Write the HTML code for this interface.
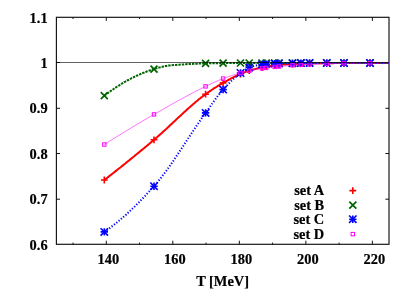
<!DOCTYPE html><html><head><meta charset="utf-8"><style>html,body{margin:0;padding:0;background:#fff}svg{display:block;will-change:transform}text{font-family:"Liberation Serif",serif;font-weight:bold;font-size:14.4px;fill:#000;stroke:#000;stroke-width:0.2px}</style></head><body>
<svg width="415" height="291" viewBox="0 0 415 291">
<rect width="415" height="291" fill="#fff"/>
<rect x="56.4" y="17.3" width="332.6" height="227.0" fill="none" stroke="#111" stroke-width="1.15"/>
<path d="M73.03,244.3v-1.7M73.03,17.3v1.7M106.29,244.3v-3.6M106.29,17.3v3.6M139.55,244.3v-1.7M139.55,17.3v1.7M172.81,244.3v-3.6M172.81,17.3v3.6M206.07,244.3v-1.7M206.07,17.3v1.7M239.33,244.3v-3.6M239.33,17.3v3.6M272.59,244.3v-1.7M272.59,17.3v1.7M305.85,244.3v-3.6M305.85,17.3v3.6M339.11,244.3v-1.7M339.11,17.3v1.7M372.37,244.3v-3.6M372.37,17.3v3.6M56.4,199.20h3.6M389.0,199.20h-3.6M56.4,153.50h3.6M389.0,153.50h-3.6M56.4,108.30h3.6M389.0,108.30h-3.6M56.4,62.50h3.6M389.0,62.50h-3.6" stroke="#111" stroke-width="1" fill="none"/>
<text x="47.6" y="249.5" text-anchor="end">0.6</text>
<text x="47.6" y="204.1" text-anchor="end">0.7</text>
<text x="47.6" y="158.7" text-anchor="end">0.8</text>
<text x="47.6" y="113.3" text-anchor="end">0.9</text>
<text x="47.6" y="67.9" text-anchor="end">1</text>
<text x="47.6" y="22.5" text-anchor="end">1.1</text>
<text x="108.3" y="263.8" text-anchor="middle">140</text>
<text x="174.8" y="263.8" text-anchor="middle">160</text>
<text x="241.3" y="263.8" text-anchor="middle">180</text>
<text x="307.8" y="263.8" text-anchor="middle">200</text>
<text x="374.4" y="263.8" text-anchor="middle">220</text>
<text x="222.6" y="285.5" text-anchor="middle">T [MeV]</text>
<path d="M104.3,180.0 L105.3,179.2 L106.3,178.5 L107.3,177.7 L108.3,176.9 L109.3,176.1 L110.3,175.3 L111.3,174.6 L112.3,173.8 L113.3,173.0 L114.3,172.2 L115.3,171.4 L116.3,170.6 L117.3,169.8 L118.3,169.0 L119.3,168.2 L120.3,167.5 L121.3,166.7 L122.3,165.9 L123.3,165.1 L124.3,164.3 L125.3,163.5 L126.3,162.6 L127.3,161.8 L128.3,161.0 L129.3,160.2 L130.3,159.4 L131.3,158.6 L132.3,157.8 L133.3,157.0 L134.3,156.2 L135.3,155.3 L136.3,154.5 L137.3,153.7 L138.3,152.9 L139.3,152.1 L140.3,151.2 L141.3,150.4 L142.3,149.6 L143.3,148.8 L144.3,147.9 L145.3,147.1 L146.3,146.3 L147.3,145.4 L148.3,144.6 L149.3,143.8 L150.3,142.9 L151.3,142.1 L152.3,141.2 L153.3,140.4 L154.3,139.5 L155.3,138.7 L156.3,137.8 L157.3,137.0 L158.3,136.1 L159.3,135.2 L160.3,134.3 L161.3,133.4 L162.3,132.5 L163.3,131.6 L164.3,130.7 L165.3,129.8 L166.3,128.9 L167.3,127.9 L168.3,127.0 L169.3,126.1 L170.3,125.1 L171.3,124.2 L172.3,123.3 L173.3,122.3 L174.3,121.4 L175.3,120.5 L176.3,119.5 L177.3,118.6 L178.3,117.6 L179.3,116.7 L180.3,115.8 L181.3,114.9 L182.3,113.9 L183.3,113.0 L184.3,112.1 L185.3,111.2 L186.3,110.3 L187.3,109.3 L188.3,108.4 L189.3,107.6 L190.3,106.7 L191.3,105.8 L192.3,104.9 L193.3,104.0 L194.3,103.2 L195.3,102.3 L196.3,101.5 L197.3,100.7 L198.3,99.8 L199.3,99.0 L200.3,98.2 L201.3,97.4 L202.3,96.7 L203.3,95.9 L204.3,95.2 L205.3,94.4 L206.3,93.7 L207.3,93.0 L208.3,92.3 L209.3,91.6 L210.3,90.9 L211.3,90.2 L212.3,89.5 L213.3,88.9 L214.3,88.2 L215.3,87.6 L216.3,87.0 L217.3,86.3 L218.3,85.7 L219.3,85.1 L220.3,84.5 L221.3,83.9 L222.3,83.4 L223.3,82.8 L224.3,82.2 L225.3,81.7 L226.3,81.1 L227.3,80.6 L228.3,80.0 L229.3,79.5 L230.3,78.9 L231.3,78.4 L232.3,77.9 L233.3,77.4 L234.3,76.9 L235.3,76.4 L236.3,75.9 L237.3,75.4 L238.3,75.0 L239.3,74.5 L240.3,74.1 L241.3,73.7 L242.3,73.2 L243.3,72.8 L244.3,72.4 L245.3,72.0 L246.3,71.6 L247.3,71.2 L248.3,70.9 L249.3,70.6 L250.3,70.3 L251.3,70.0 L252.3,69.7 L253.3,69.5 L254.3,69.2 L255.3,69.0 L256.3,68.7 L257.3,68.5 L258.3,68.3 L259.3,68.1 L260.3,67.9 L261.3,67.6 L262.3,67.4 L263.3,67.2 L264.3,67.0 L265.3,66.9 L266.3,66.7 L267.3,66.5 L268.3,66.3 L269.3,66.2 L270.3,66.0 L271.3,65.9 L272.3,65.7 L273.3,65.6 L274.3,65.5 L275.3,65.3 L276.3,65.2 L277.3,65.1 L278.3,65.0 L279.3,64.9 L280.3,64.8 L281.3,64.7 L282.3,64.6 L283.3,64.5 L284.3,64.5 L285.3,64.4 L286.3,64.3 L287.3,64.3 L288.3,64.2 L289.3,64.2 L290.3,64.1 L291.3,64.1 L292.3,64.0 L293.3,64.0 L294.3,63.9 L295.3,63.9 L296.3,63.9 L297.3,63.8 L298.3,63.8 L299.3,63.8 L300.3,63.7 L301.3,63.7 L302.3,63.6 L303.3,63.6 L304.3,63.6 L305.3,63.5 L306.3,63.5 L307.3,63.5 L308.3,63.4 L309.3,63.4 L310.3,63.4 L311.3,63.4 L312.3,63.4 L313.3,63.3 L314.3,63.3 L315.3,63.3 L316.3,63.3 L317.3,63.3 L318.3,63.3 L319.3,63.3 L320.3,63.3 L321.3,63.2 L322.3,63.2 L323.3,63.2 L324.3,63.2 L325.3,63.2 L326.3,63.2 L327.3,63.2 L328.3,63.2 L329.3,63.2 L330.3,63.2 L331.3,63.2 L332.3,63.2 L333.3,63.2 L334.3,63.1 L335.3,63.1 L336.3,63.1 L337.3,63.1 L338.3,63.1 L339.3,63.1 L340.3,63.1 L341.3,63.1 L342.3,63.1 L343.3,63.1 L344.3,63.1 L345.3,63.1 L346.3,63.1 L347.3,63.1 L348.3,63.1 L349.3,63.1 L350.3,63.1 L351.3,63.1 L352.3,63.1 L353.3,63.1 L354.3,63.0 L355.3,63.0 L356.3,63.0 L357.3,63.0 L358.3,63.0 L359.3,63.0 L360.3,63.0 L361.3,63.0 L362.3,63.0 L363.3,63.0 L364.3,63.0 L365.3,63.0 L366.3,63.0 L367.3,63.0 L368.3,63.0 L369.3,63.0 L370.3,63.0 L371.3,63.0 L372.3,63.0 L373.3,63.0 L374.3,63.0 L375.3,63.0 L376.3,63.0 L377.3,63.0 L378.3,63.0 L379.3,63.0 L380.3,63.0 L381.3,63.0 L382.3,63.0 L383.3,63.0 L384.3,63.0 L385.3,63.0 L386.3,63.0 L387.3,63.0 L388.3,63.0 L389.0,63.0" stroke="#ff0000" stroke-width="2" fill="none"/>
<path d="M100.9,180.0H107.7M104.3,176.6V183.4" stroke="#ff0000" stroke-width="1.6" fill="none"/>
<path d="M150.6,139.8H157.4M154.0,136.4V143.2" stroke="#ff0000" stroke-width="1.6" fill="none"/>
<path d="M202.2,94.2H209.0M205.6,90.8V97.6" stroke="#ff0000" stroke-width="1.6" fill="none"/>
<path d="M219.7,82.9H226.5M223.1,79.5V86.3" stroke="#ff0000" stroke-width="1.6" fill="none"/>
<path d="M237.1,74.0H243.9M240.5,70.6V77.4" stroke="#ff0000" stroke-width="1.6" fill="none"/>
<path d="M245.8,70.6H252.6M249.2,67.2V74.0" stroke="#ff0000" stroke-width="1.6" fill="none"/>
<path d="M258.6,67.5H265.4M262.0,64.1V70.9" stroke="#ff0000" stroke-width="1.6" fill="none"/>
<path d="M262.8,66.7H269.6M266.2,63.3V70.1" stroke="#ff0000" stroke-width="1.6" fill="none"/>
<path d="M271.3,65.4H278.1M274.7,62.0V68.8" stroke="#ff0000" stroke-width="1.6" fill="none"/>
<path d="M275.6,64.9H282.4M279.0,61.5V68.3" stroke="#ff0000" stroke-width="1.6" fill="none"/>
<path d="M289.1,64.0H295.9M292.5,60.6V67.4" stroke="#ff0000" stroke-width="1.6" fill="none"/>
<path d="M297.5,63.7H304.3M300.9,60.3V67.1" stroke="#ff0000" stroke-width="1.6" fill="none"/>
<path d="M306.2,63.4H313.0M309.6,60.0V66.8" stroke="#ff0000" stroke-width="1.6" fill="none"/>
<path d="M323.4,63.2H330.2M326.8,59.8V66.6" stroke="#ff0000" stroke-width="1.6" fill="none"/>
<path d="M340.6,63.1H347.4M344.0,59.7V66.5" stroke="#ff0000" stroke-width="1.6" fill="none"/>
<path d="M366.6,63.0H373.4M370.0,59.6V66.4" stroke="#ff0000" stroke-width="1.6" fill="none"/>
<path d="M104.3,95.7 L105.3,94.9 L106.3,94.2 L107.3,93.4 L108.3,92.7 L109.3,92.0 L110.3,91.3 L111.3,90.6 L112.3,89.9 L113.3,89.2 L114.3,88.5 L115.3,87.8 L116.3,87.2 L117.3,86.5 L118.3,85.9 L119.3,85.3 L120.3,84.6 L121.3,84.0 L122.3,83.4 L123.3,82.8 L124.3,82.2 L125.3,81.7 L126.3,81.1 L127.3,80.5 L128.3,80.0 L129.3,79.4 L130.3,78.9 L131.3,78.4 L132.3,77.9 L133.3,77.4 L134.3,76.9 L135.3,76.4 L136.3,75.9 L137.3,75.5 L138.3,75.0 L139.3,74.6 L140.3,74.1 L141.3,73.7 L142.3,73.3 L143.3,72.9 L144.3,72.5 L145.3,72.1 L146.3,71.7 L147.3,71.3 L148.3,71.0 L149.3,70.6 L150.3,70.3 L151.3,70.0 L152.3,69.6 L153.3,69.3 L154.3,69.0 L155.3,68.7 L156.3,68.4 L157.3,68.1 L158.3,67.8 L159.3,67.6 L160.3,67.3 L161.3,67.0 L162.3,66.8 L163.3,66.6 L164.3,66.4 L165.3,66.1 L166.3,66.0 L167.3,65.8 L168.3,65.6 L169.3,65.5 L170.3,65.4 L171.3,65.3 L172.3,65.2 L173.3,65.1 L174.3,65.0 L175.3,64.9 L176.3,64.9 L177.3,64.8 L178.3,64.7 L179.3,64.7 L180.3,64.6 L181.3,64.5 L182.3,64.4 L183.3,64.4 L184.3,64.3 L185.3,64.3 L186.3,64.2 L187.3,64.1 L188.3,64.1 L189.3,64.0 L190.3,64.0 L191.3,63.9 L192.3,63.9 L193.3,63.8 L194.3,63.8 L195.3,63.7 L196.3,63.7 L197.3,63.7 L198.3,63.6 L199.3,63.6 L200.3,63.5 L201.3,63.5 L202.3,63.5 L203.3,63.5 L204.3,63.4 L205.3,63.4 L206.3,63.4 L207.3,63.4 L208.3,63.4 L209.3,63.3 L210.3,63.3 L211.3,63.3 L212.3,63.3 L213.3,63.3 L214.3,63.3 L215.3,63.3 L216.3,63.3 L217.3,63.3 L218.3,63.2 L219.3,63.2 L220.3,63.2 L221.3,63.2 L222.3,63.2 L223.3,63.2 L224.3,63.2 L225.3,63.2 L226.3,63.2 L227.3,63.1 L228.3,63.1 L229.3,63.1 L230.3,63.1 L231.3,63.1 L232.3,63.1 L233.3,63.1 L234.3,63.0 L235.3,63.0 L236.3,63.0 L237.3,63.0 L238.3,63.0 L239.3,63.0 L240.3,63.0 L241.3,63.0 L242.3,63.0 L243.3,63.0 L244.3,63.0 L245.3,63.0 L246.3,63.0 L247.3,63.0 L248.3,63.0 L249.3,63.0 L250.3,63.0 L251.3,63.0 L252.3,63.0 L253.3,63.0 L254.3,63.0 L255.3,63.0 L256.3,63.0 L257.3,63.0 L258.3,63.0 L259.3,63.0 L260.3,63.0 L261.3,63.0 L262.3,63.0 L263.3,63.0 L264.3,63.0 L265.3,63.0 L266.3,63.0 L267.3,63.0 L268.3,63.0 L269.3,63.0 L270.3,63.0 L271.3,63.0 L272.3,63.0 L273.3,63.0 L274.3,63.0 L275.3,63.0 L276.3,63.0 L277.3,63.0 L278.3,63.0 L279.3,63.0 L280.3,63.0 L281.3,63.0 L282.3,63.0 L283.3,63.0 L284.3,63.0 L285.3,63.0 L286.3,63.0 L287.3,63.0 L288.3,63.0 L289.3,63.0 L290.3,63.0 L291.3,63.0 L292.3,63.0 L293.3,63.0 L294.3,63.0 L295.3,63.0 L296.3,63.0 L297.3,63.0 L298.3,63.0 L299.3,63.0 L300.3,63.0 L301.3,63.0 L302.3,63.0 L303.3,63.0 L304.3,63.0 L305.3,63.0 L306.3,63.0 L307.3,63.0 L308.3,63.0 L309.3,63.0 L310.3,63.0 L311.3,63.0 L312.3,63.0 L313.3,63.0 L314.3,63.0 L315.3,63.0 L316.3,63.0 L317.3,63.0 L318.3,63.0 L319.3,63.0 L320.3,63.0 L321.3,63.0 L322.3,63.0 L323.3,63.0 L324.3,63.0 L325.3,63.0 L326.3,63.0 L327.3,63.0 L328.3,63.0 L329.3,63.0 L330.3,63.0 L331.3,63.0 L332.3,63.0 L333.3,63.0 L334.3,63.0 L335.3,63.0 L336.3,63.0 L337.3,63.0 L338.3,63.0 L339.3,63.0 L340.3,63.0 L341.3,63.0 L342.3,63.0 L343.3,63.0 L344.3,63.0 L345.3,63.0 L346.3,63.0 L347.3,63.0 L348.3,63.0 L349.3,63.0 L350.3,63.0 L351.3,63.0 L352.3,63.0 L353.3,63.0 L354.3,63.0 L355.3,63.0 L356.3,63.0 L357.3,63.0 L358.3,63.0 L359.3,63.0 L360.3,63.0 L361.3,63.0 L362.3,63.0 L363.3,63.0 L364.3,63.0 L365.3,63.0 L366.3,63.0 L367.3,63.0 L368.3,63.0 L369.3,63.0 L370.3,63.0 L371.3,63.0 L372.3,63.0 L373.3,63.0 L374.3,63.0 L375.3,63.0 L376.3,63.0 L377.3,63.0 L378.3,63.0 L379.3,63.0 L380.3,63.0 L381.3,63.0 L382.3,63.0 L383.3,63.0 L384.3,63.0 L385.3,63.0 L386.3,63.0 L387.3,63.0 L388.3,63.0 L389.0,63.0" stroke="#006400" stroke-width="2" stroke-dasharray="2.4 1.0" fill="none"/>
<path d="M100.8,92.2L107.8,99.2M100.8,99.2L107.8,92.2" stroke="#006400" stroke-width="1.7" fill="none"/>
<path d="M150.5,65.6L157.5,72.6M150.5,72.6L157.5,65.6" stroke="#006400" stroke-width="1.7" fill="none"/>
<path d="M202.1,59.9L209.1,66.9M202.1,66.9L209.1,59.9" stroke="#006400" stroke-width="1.7" fill="none"/>
<path d="M219.6,59.7L226.6,66.7M219.6,66.7L226.6,59.7" stroke="#006400" stroke-width="1.7" fill="none"/>
<path d="M237.0,59.5L244.0,66.5M237.0,66.5L244.0,59.5" stroke="#006400" stroke-width="1.7" fill="none"/>
<path d="M245.7,59.5L252.7,66.5M245.7,66.5L252.7,59.5" stroke="#006400" stroke-width="1.7" fill="none"/>
<path d="M258.5,59.5L265.5,66.5M258.5,66.5L265.5,59.5" stroke="#006400" stroke-width="1.7" fill="none"/>
<path d="M262.7,59.5L269.7,66.5M262.7,66.5L269.7,59.5" stroke="#006400" stroke-width="1.7" fill="none"/>
<path d="M271.2,59.5L278.2,66.5M271.2,66.5L278.2,59.5" stroke="#006400" stroke-width="1.7" fill="none"/>
<path d="M275.5,59.5L282.5,66.5M275.5,66.5L282.5,59.5" stroke="#006400" stroke-width="1.7" fill="none"/>
<path d="M289.0,59.5L296.0,66.5M289.0,66.5L296.0,59.5" stroke="#006400" stroke-width="1.7" fill="none"/>
<path d="M297.4,59.5L304.4,66.5M297.4,66.5L304.4,59.5" stroke="#006400" stroke-width="1.7" fill="none"/>
<path d="M306.1,59.5L313.1,66.5M306.1,66.5L313.1,59.5" stroke="#006400" stroke-width="1.7" fill="none"/>
<path d="M323.3,59.5L330.3,66.5M323.3,66.5L330.3,59.5" stroke="#006400" stroke-width="1.7" fill="none"/>
<path d="M340.5,59.5L347.5,66.5M340.5,66.5L347.5,59.5" stroke="#006400" stroke-width="1.7" fill="none"/>
<path d="M366.5,59.5L373.5,66.5M366.5,66.5L373.5,59.5" stroke="#006400" stroke-width="1.7" fill="none"/>
<path d="M104.3,231.9 L105.3,231.2 L106.3,230.5 L107.3,229.8 L108.3,229.1 L109.3,228.4 L110.3,227.6 L111.3,226.9 L112.3,226.1 L113.3,225.4 L114.3,224.6 L115.3,223.8 L116.3,223.0 L117.3,222.2 L118.3,221.4 L119.3,220.5 L120.3,219.7 L121.3,218.8 L122.3,218.0 L123.3,217.1 L124.3,216.2 L125.3,215.3 L126.3,214.4 L127.3,213.5 L128.3,212.6 L129.3,211.7 L130.3,210.7 L131.3,209.8 L132.3,208.8 L133.3,207.8 L134.3,206.9 L135.3,205.9 L136.3,204.9 L137.3,203.9 L138.3,202.9 L139.3,201.9 L140.3,200.9 L141.3,199.8 L142.3,198.8 L143.3,197.8 L144.3,196.7 L145.3,195.7 L146.3,194.6 L147.3,193.5 L148.3,192.5 L149.3,191.4 L150.3,190.3 L151.3,189.2 L152.3,188.1 L153.3,187.0 L154.3,185.9 L155.3,184.7 L156.3,183.6 L157.3,182.4 L158.3,181.2 L159.3,179.9 L160.3,178.7 L161.3,177.4 L162.3,176.1 L163.3,174.8 L164.3,173.5 L165.3,172.2 L166.3,170.8 L167.3,169.4 L168.3,168.0 L169.3,166.6 L170.3,165.2 L171.3,163.8 L172.3,162.3 L173.3,160.9 L174.3,159.4 L175.3,157.9 L176.3,156.4 L177.3,154.9 L178.3,153.4 L179.3,151.9 L180.3,150.4 L181.3,148.9 L182.3,147.4 L183.3,145.9 L184.3,144.3 L185.3,142.8 L186.3,141.3 L187.3,139.8 L188.3,138.2 L189.3,136.7 L190.3,135.2 L191.3,133.7 L192.3,132.2 L193.3,130.7 L194.3,129.2 L195.3,127.7 L196.3,126.2 L197.3,124.7 L198.3,123.3 L199.3,121.8 L200.3,120.4 L201.3,118.9 L202.3,117.5 L203.3,116.1 L204.3,114.7 L205.3,113.3 L206.3,111.9 L207.3,110.6 L208.3,109.2 L209.3,107.8 L210.3,106.3 L211.3,104.9 L212.3,103.5 L213.3,102.1 L214.3,100.8 L215.3,99.4 L216.3,98.0 L217.3,96.7 L218.3,95.4 L219.3,94.1 L220.3,92.9 L221.3,91.7 L222.3,90.5 L223.3,89.4 L224.3,88.3 L225.3,87.2 L226.3,86.1 L227.3,85.1 L228.3,84.0 L229.3,83.0 L230.3,82.0 L231.3,81.0 L232.3,80.0 L233.3,79.1 L234.3,78.2 L235.3,77.3 L236.3,76.4 L237.3,75.5 L238.3,74.7 L239.3,73.9 L240.3,73.2 L241.3,72.4 L242.3,71.6 L243.3,70.9 L244.3,70.1 L245.3,69.5 L246.3,68.8 L247.3,68.2 L248.3,67.8 L249.3,67.4 L250.3,67.0 L251.3,66.7 L252.3,66.4 L253.3,66.1 L254.3,65.9 L255.3,65.6 L256.3,65.4 L257.3,65.2 L258.3,65.0 L259.3,64.8 L260.3,64.7 L261.3,64.6 L262.3,64.5 L263.3,64.4 L264.3,64.3 L265.3,64.3 L266.3,64.2 L267.3,64.1 L268.3,64.0 L269.3,64.0 L270.3,63.9 L271.3,63.8 L272.3,63.7 L273.3,63.7 L274.3,63.6 L275.3,63.6 L276.3,63.6 L277.3,63.5 L278.3,63.5 L279.3,63.5 L280.3,63.5 L281.3,63.4 L282.3,63.4 L283.3,63.4 L284.3,63.4 L285.3,63.3 L286.3,63.3 L287.3,63.3 L288.3,63.3 L289.3,63.3 L290.3,63.2 L291.3,63.2 L292.3,63.2 L293.3,63.2 L294.3,63.2 L295.3,63.2 L296.3,63.2 L297.3,63.1 L298.3,63.1 L299.3,63.1 L300.3,63.1 L301.3,63.1 L302.3,63.1 L303.3,63.1 L304.3,63.1 L305.3,63.0 L306.3,63.0 L307.3,63.0 L308.3,63.0 L309.3,63.0 L310.3,63.0 L311.3,63.0 L312.3,63.0 L313.3,63.0 L314.3,63.0 L315.3,63.0 L316.3,63.0 L317.3,63.0 L318.3,63.0 L319.3,63.0 L320.3,63.0 L321.3,63.0 L322.3,63.0 L323.3,63.0 L324.3,63.0 L325.3,63.0 L326.3,63.0 L327.3,63.0 L328.3,63.0 L329.3,63.0 L330.3,63.0 L331.3,63.0 L332.3,63.0 L333.3,63.0 L334.3,63.0 L335.3,63.0 L336.3,63.0 L337.3,63.0 L338.3,63.0 L339.3,63.0 L340.3,63.0 L341.3,63.0 L342.3,63.0 L343.3,63.0 L344.3,63.0 L345.3,63.0 L346.3,63.0 L347.3,63.0 L348.3,63.0 L349.3,63.0 L350.3,63.0 L351.3,63.0 L352.3,63.0 L353.3,63.0 L354.3,63.0 L355.3,63.0 L356.3,63.0 L357.3,63.0 L358.3,63.0 L359.3,63.0 L360.3,63.0 L361.3,63.0 L362.3,63.0 L363.3,63.0 L364.3,63.0 L365.3,63.0 L366.3,63.0 L367.3,63.0 L368.3,63.0 L369.3,63.0 L370.3,63.0 L371.3,63.0 L372.3,63.0 L373.3,63.0 L374.3,63.0 L375.3,63.0 L376.3,63.0 L377.3,63.0 L378.3,63.0 L379.3,63.0 L380.3,63.0 L381.3,63.0 L382.3,63.0 L383.3,63.0 L384.3,63.0 L385.3,63.0 L386.3,63.0 L387.3,63.0 L388.3,63.0 L389.0,63.0" stroke="#0000ff" stroke-width="2" stroke-dasharray="1.2 1.8" fill="none"/>
<path d="M100.6,231.9H108.0M104.3,228.2V235.6" stroke="#0000ff" stroke-width="1.6" fill="none"/><path d="M100.6,228.2L108.0,235.6M100.6,235.6L108.0,228.2" stroke="#0000ff" stroke-width="1.6" fill="none"/>
<path d="M150.3,186.2H157.7M154.0,182.5V189.9" stroke="#0000ff" stroke-width="1.6" fill="none"/><path d="M150.3,182.5L157.7,189.9M150.3,189.9L157.7,182.5" stroke="#0000ff" stroke-width="1.6" fill="none"/>
<path d="M201.9,112.9H209.3M205.6,109.2V116.6" stroke="#0000ff" stroke-width="1.6" fill="none"/><path d="M201.9,109.2L209.3,116.6M201.9,116.6L209.3,109.2" stroke="#0000ff" stroke-width="1.6" fill="none"/>
<path d="M219.4,89.6H226.8M223.1,85.9V93.3" stroke="#0000ff" stroke-width="1.6" fill="none"/><path d="M219.4,85.9L226.8,93.3M219.4,93.3L226.8,85.9" stroke="#0000ff" stroke-width="1.6" fill="none"/>
<path d="M236.8,73.0H244.2M240.5,69.3V76.7" stroke="#0000ff" stroke-width="1.6" fill="none"/><path d="M236.8,69.3L244.2,76.7M236.8,76.7L244.2,69.3" stroke="#0000ff" stroke-width="1.6" fill="none"/>
<path d="M245.5,67.4H252.9M249.2,63.7V71.1" stroke="#0000ff" stroke-width="1.6" fill="none"/><path d="M245.5,63.7L252.9,71.1M245.5,71.1L252.9,63.7" stroke="#0000ff" stroke-width="1.6" fill="none"/>
<path d="M258.3,64.5H265.7M262.0,60.8V68.2" stroke="#0000ff" stroke-width="1.6" fill="none"/><path d="M258.3,60.8L265.7,68.2M258.3,68.2L265.7,60.8" stroke="#0000ff" stroke-width="1.6" fill="none"/>
<path d="M262.5,64.2H269.9M266.2,60.5V67.9" stroke="#0000ff" stroke-width="1.6" fill="none"/><path d="M262.5,60.5L269.9,67.9M262.5,67.9L269.9,60.5" stroke="#0000ff" stroke-width="1.6" fill="none"/>
<path d="M271.0,63.6H278.4M274.7,59.9V67.3" stroke="#0000ff" stroke-width="1.6" fill="none"/><path d="M271.0,59.9L278.4,67.3M271.0,67.3L278.4,59.9" stroke="#0000ff" stroke-width="1.6" fill="none"/>
<path d="M275.3,63.5H282.7M279.0,59.8V67.2" stroke="#0000ff" stroke-width="1.6" fill="none"/><path d="M275.3,59.8L282.7,67.2M275.3,67.2L282.7,59.8" stroke="#0000ff" stroke-width="1.6" fill="none"/>
<path d="M288.8,63.2H296.2M292.5,59.5V66.9" stroke="#0000ff" stroke-width="1.6" fill="none"/><path d="M288.8,59.5L296.2,66.9M288.8,66.9L296.2,59.5" stroke="#0000ff" stroke-width="1.6" fill="none"/>
<path d="M297.2,63.1H304.6M300.9,59.4V66.8" stroke="#0000ff" stroke-width="1.6" fill="none"/><path d="M297.2,59.4L304.6,66.8M297.2,66.8L304.6,59.4" stroke="#0000ff" stroke-width="1.6" fill="none"/>
<path d="M305.9,63.0H313.3M309.6,59.3V66.7" stroke="#0000ff" stroke-width="1.6" fill="none"/><path d="M305.9,59.3L313.3,66.7M305.9,66.7L313.3,59.3" stroke="#0000ff" stroke-width="1.6" fill="none"/>
<path d="M323.1,63.0H330.5M326.8,59.3V66.7" stroke="#0000ff" stroke-width="1.6" fill="none"/><path d="M323.1,59.3L330.5,66.7M323.1,66.7L330.5,59.3" stroke="#0000ff" stroke-width="1.6" fill="none"/>
<path d="M340.3,63.0H347.7M344.0,59.3V66.7" stroke="#0000ff" stroke-width="1.6" fill="none"/><path d="M340.3,59.3L347.7,66.7M340.3,66.7L347.7,59.3" stroke="#0000ff" stroke-width="1.6" fill="none"/>
<path d="M366.3,63.0H373.7M370.0,59.3V66.7" stroke="#0000ff" stroke-width="1.6" fill="none"/><path d="M366.3,59.3L373.7,66.7M366.3,66.7L373.7,59.3" stroke="#0000ff" stroke-width="1.6" fill="none"/>
<path d="M104.3,144.5 L105.3,143.9 L106.3,143.2 L107.3,142.6 L108.3,142.0 L109.3,141.3 L110.3,140.7 L111.3,140.1 L112.3,139.4 L113.3,138.8 L114.3,138.2 L115.3,137.6 L116.3,136.9 L117.3,136.3 L118.3,135.7 L119.3,135.1 L120.3,134.5 L121.3,133.9 L122.3,133.2 L123.3,132.6 L124.3,132.0 L125.3,131.4 L126.3,130.8 L127.3,130.2 L128.3,129.6 L129.3,129.0 L130.3,128.4 L131.3,127.8 L132.3,127.1 L133.3,126.5 L134.3,125.9 L135.3,125.3 L136.3,124.8 L137.3,124.2 L138.3,123.6 L139.3,123.0 L140.3,122.4 L141.3,121.8 L142.3,121.2 L143.3,120.6 L144.3,120.0 L145.3,119.4 L146.3,118.9 L147.3,118.3 L148.3,117.7 L149.3,117.1 L150.3,116.5 L151.3,116.0 L152.3,115.4 L153.3,114.8 L154.3,114.2 L155.3,113.7 L156.3,113.1 L157.3,112.5 L158.3,111.9 L159.3,111.4 L160.3,110.8 L161.3,110.2 L162.3,109.7 L163.3,109.1 L164.3,108.5 L165.3,107.9 L166.3,107.4 L167.3,106.8 L168.3,106.2 L169.3,105.7 L170.3,105.1 L171.3,104.5 L172.3,104.0 L173.3,103.4 L174.3,102.9 L175.3,102.3 L176.3,101.8 L177.3,101.2 L178.3,100.6 L179.3,100.1 L180.3,99.5 L181.3,99.0 L182.3,98.4 L183.3,97.9 L184.3,97.4 L185.3,96.8 L186.3,96.3 L187.3,95.7 L188.3,95.2 L189.3,94.7 L190.3,94.1 L191.3,93.6 L192.3,93.1 L193.3,92.6 L194.3,92.1 L195.3,91.5 L196.3,91.0 L197.3,90.5 L198.3,90.0 L199.3,89.5 L200.3,89.0 L201.3,88.5 L202.3,88.0 L203.3,87.5 L204.3,87.0 L205.3,86.5 L206.3,86.1 L207.3,85.6 L208.3,85.1 L209.3,84.6 L210.3,84.1 L211.3,83.7 L212.3,83.2 L213.3,82.7 L214.3,82.3 L215.3,81.8 L216.3,81.4 L217.3,81.0 L218.3,80.5 L219.3,80.1 L220.3,79.7 L221.3,79.3 L222.3,78.9 L223.3,78.5 L224.3,78.2 L225.3,77.8 L226.3,77.4 L227.3,77.1 L228.3,76.7 L229.3,76.4 L230.3,76.1 L231.3,75.8 L232.3,75.4 L233.3,75.1 L234.3,74.8 L235.3,74.5 L236.3,74.2 L237.3,73.9 L238.3,73.6 L239.3,73.3 L240.3,73.1 L241.3,72.8 L242.3,72.5 L243.3,72.2 L244.3,72.0 L245.3,71.7 L246.3,71.5 L247.3,71.2 L248.3,71.0 L249.3,70.8 L250.3,70.6 L251.3,70.3 L252.3,70.1 L253.3,69.9 L254.3,69.7 L255.3,69.5 L256.3,69.3 L257.3,69.2 L258.3,69.0 L259.3,68.8 L260.3,68.7 L261.3,68.5 L262.3,68.4 L263.3,68.2 L264.3,68.1 L265.3,68.0 L266.3,67.9 L267.3,67.8 L268.3,67.6 L269.3,67.5 L270.3,67.4 L271.3,67.3 L272.3,67.2 L273.3,67.0 L274.3,66.9 L275.3,66.8 L276.3,66.7 L277.3,66.7 L278.3,66.6 L279.3,66.5 L280.3,66.4 L281.3,66.3 L282.3,66.2 L283.3,66.1 L284.3,66.0 L285.3,65.9 L286.3,65.8 L287.3,65.7 L288.3,65.6 L289.3,65.5 L290.3,65.5 L291.3,65.4 L292.3,65.3 L293.3,65.3 L294.3,65.2 L295.3,65.2 L296.3,65.1 L297.3,65.1 L298.3,65.0 L299.3,65.0 L300.3,64.9 L301.3,64.9 L302.3,64.8 L303.3,64.8 L304.3,64.7 L305.3,64.6 L306.3,64.6 L307.3,64.5 L308.3,64.5 L309.3,64.4 L310.3,64.4 L311.3,64.3 L312.3,64.3 L313.3,64.2 L314.3,64.2 L315.3,64.1 L316.3,64.1 L317.3,64.0 L318.3,64.0 L319.3,64.0 L320.3,63.9 L321.3,63.9 L322.3,63.8 L323.3,63.8 L324.3,63.8 L325.3,63.7 L326.3,63.7 L327.3,63.7 L328.3,63.7 L329.3,63.6 L330.3,63.6 L331.3,63.6 L332.3,63.5 L333.3,63.5 L334.3,63.5 L335.3,63.5 L336.3,63.4 L337.3,63.4 L338.3,63.4 L339.3,63.4 L340.3,63.4 L341.3,63.3 L342.3,63.3 L343.3,63.3 L344.3,63.3 L345.3,63.3 L346.3,63.3 L347.3,63.3 L348.3,63.3 L349.3,63.2 L350.3,63.2 L351.3,63.2 L352.3,63.2 L353.3,63.2 L354.3,63.2 L355.3,63.2 L356.3,63.2 L357.3,63.2 L358.3,63.2 L359.3,63.2 L360.3,63.2 L361.3,63.2 L362.3,63.1 L363.3,63.1 L364.3,63.1 L365.3,63.1 L366.3,63.1 L367.3,63.1 L368.3,63.1 L369.3,63.1 L370.3,63.1 L371.3,63.1 L372.3,63.1 L373.3,63.1 L374.3,63.1 L375.3,63.1 L376.3,63.1 L377.3,63.1 L378.3,63.1 L379.3,63.0 L380.3,63.0 L381.3,63.0 L382.3,63.0 L383.3,63.0 L384.3,63.0 L385.3,63.0 L386.3,63.0 L387.3,63.0 L388.3,63.0 L389.0,63.0" stroke="#ff00ff" stroke-width="0.6" fill="none"/>
<rect x="102.6" y="142.8" width="3.4" height="3.4" stroke="#ff00ff" stroke-width="1.0" fill="none"/>
<rect x="152.3" y="112.7" width="3.4" height="3.4" stroke="#ff00ff" stroke-width="1.0" fill="none"/>
<rect x="203.9" y="84.7" width="3.4" height="3.4" stroke="#ff00ff" stroke-width="1.0" fill="none"/>
<rect x="221.4" y="76.9" width="3.4" height="3.4" stroke="#ff00ff" stroke-width="1.0" fill="none"/>
<rect x="238.8" y="71.3" width="3.4" height="3.4" stroke="#ff00ff" stroke-width="1.0" fill="none"/>
<rect x="247.5" y="69.1" width="3.4" height="3.4" stroke="#ff00ff" stroke-width="1.0" fill="none"/>
<rect x="260.3" y="66.7" width="3.4" height="3.4" stroke="#ff00ff" stroke-width="1.0" fill="none"/>
<rect x="264.5" y="66.2" width="3.4" height="3.4" stroke="#ff00ff" stroke-width="1.0" fill="none"/>
<rect x="273.0" y="65.2" width="3.4" height="3.4" stroke="#ff00ff" stroke-width="1.0" fill="none"/>
<rect x="277.3" y="64.8" width="3.4" height="3.4" stroke="#ff00ff" stroke-width="1.0" fill="none"/>
<rect x="290.8" y="63.6" width="3.4" height="3.4" stroke="#ff00ff" stroke-width="1.0" fill="none"/>
<rect x="299.2" y="63.2" width="3.4" height="3.4" stroke="#ff00ff" stroke-width="1.0" fill="none"/>
<rect x="307.9" y="62.7" width="3.4" height="3.4" stroke="#ff00ff" stroke-width="1.0" fill="none"/>
<rect x="325.1" y="62.0" width="3.4" height="3.4" stroke="#ff00ff" stroke-width="1.0" fill="none"/>
<rect x="342.3" y="61.6" width="3.4" height="3.4" stroke="#ff00ff" stroke-width="1.0" fill="none"/>
<rect x="368.3" y="61.4" width="3.4" height="3.4" stroke="#ff00ff" stroke-width="1.0" fill="none"/>
<path d="M56.4,62.5H389.0" stroke="#000" stroke-width="1" stroke-opacity="0.62" fill="none"/>
<text x="324.2" y="195" text-anchor="end">set A</text>
<text x="324.2" y="209.5" text-anchor="end">set B</text>
<text x="324.2" y="224" text-anchor="end">set C</text>
<text x="324.2" y="238.6" text-anchor="end">set D</text>
<path d="M349.4,190.6H356.2M352.8,187.2V194.0" stroke="#ff0000" stroke-width="1.6" fill="none"/>
<path d="M349.3,201.6L356.3,208.6M349.3,208.6L356.3,201.6" stroke="#006400" stroke-width="1.7" fill="none"/>
<path d="M349.1,219.2H356.5M352.8,215.5V222.9" stroke="#0000ff" stroke-width="1.6" fill="none"/><path d="M349.1,215.5L356.5,222.9M349.1,222.9L356.5,215.5" stroke="#0000ff" stroke-width="1.6" fill="none"/>
<rect x="351.1" y="232.4" width="3.4" height="3.4" stroke="#ff00ff" stroke-width="1.0" fill="none"/>
</svg></body></html>
